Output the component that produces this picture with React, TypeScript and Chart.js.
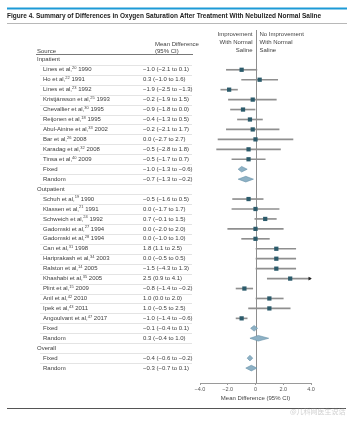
import React, { useEffect, useRef } from 'react';
import { Chart, registerables } from 'chart.js';

Chart.register(...registerables);

const FONT = '"Liberation Sans", Arial, sans-serif';

const titleText = 'Figure 4. Summary of Differences in Oxygen Saturation After Treatment With Nebulized Normal Saline';
const leftHeader = ['Improvement', 'With Normal', 'Saline'];
const rightHeader = ['No Improvement', 'With Normal', 'Saline'];
const axisTitle = 'Mean Difference (95% CI)';
const watermark = '@儿科网医生说话';

// g = group header, s = study, f = pooled (diamond)
const rowKinds = ['g', 's', 's', 's', 's', 's', 's', 's', 's', 's', 's', 'f', 'f',
  'g', 's', 's', 's', 's', 's', 's', 's', 's', 's', 's', 's', 's', 's', 'f', 'f',
  'g', 'f', 'f'];

const rowNames = ['Inpatient', 'Lines et al,', 'Ho et al,', 'Lines et al,', 'Kristjánsson et al,', 'Chevallier et al,',
  'Reijonen et al,', 'Abul-Ainine et al,', 'Bar et al,', 'Karadag et al,', 'Tinsa et al,', 'Fixed', 'Random',
  'Outpatient', 'Schuh et al,', 'Klassen et al,', 'Schweich et al,', 'Gadomski et al,', 'Gadomski et al,',
  'Can et al,', 'Hariprakash et al,', 'Ralston et al,', 'Khashabi et al,', 'Plint et al,', 'Anil et al,',
  'Ipek et al,', 'Angoulvant et al,', 'Fixed', 'Random', 'Overall', 'Fixed', 'Random'];

const rowRefs = ['', '20', '22', '23', '25', '30', '18', '33', '26', '32', '40', '', '',
  '', '19', '21', '24', '27', '28', '31', '34', '14', '35', '15', '42', '43', '47', '', '',
  '', '', ''];

const rowYears = ['', '1990', '1991', '1992', '1993', '1995', '1995', '2002', '2008', '2008', '2009', '', '',
  '', '1990', '1991', '1992', '1994', '1994', '1998', '2003', '2005', '2005', '2009', '2010', '2011', '2017', '', '',
  '', '', ''];

const rowCI = ['', '−1.0 (−2.1 to 0.1)', '0.3 (−1.0 to 1.6)', '−1.9 (−2.5 to −1.3)', '−0.2 (−1.9 to 1.5)',
  '−0.9 (−1.8 to 0.0)', '−0.4 (−1.3 to 0.5)', '−0.2 (−2.1 to 1.7)', '0.0 (−2.7 to 2.7)', '−0.5 (−2.8 to 1.8)',
  '−0.5 (−1.7 to 0.7)', '−1.0 (−1.3 to −0.6)', '−0.7 (−1.3 to −0.2)',
  '', '−0.5 (−1.6 to 0.5)', '0.0 (−1.7 to 1.7)', '0.7 (−0.1 to 1.5)', '0.0 (−2.0 to 2.0)', '0.0 (−1.0 to 1.0)',
  '1.8 (1.1 to 2.5)', '0.0 (−0.5 to 0.5)', '−1.5 (−4.3 to 1.3)', '2.5 (0.9 to 4.1)', '−0.8 (−1.4 to −0.2)',
  '1.0 (0.0 to 2.0)', '1.0 (−0.5 to 2.5)', '−1.0 (−1.4 to −0.6)', '−0.1 (−0.4 to 0.1)', '0.3 (−0.4 to 1.0)',
  '', '−0.4 (−0.6 to −0.2)', '−0.3 (−0.7 to 0.1)'];

// values as plotted in the figure
const rowEst = [null, -1.0, 0.3, -1.9, -0.2, -0.9, -0.4, -0.2, 0.0, -0.5, -0.5, -1.0, -0.7,
  null, -0.5, 0.0, 0.7, 0.0, 0.0, 1.5, 1.5, 1.5, 2.5, -0.8, 1.0, 1.0, -1.0, -0.1, 0.2,
  null, -0.4, -0.3];
const rowLo = [null, -2.1, -1.0, -2.5, -1.95, -1.8, -1.3, -2.1, -2.7, -2.8, -1.7, -1.25, -1.25,
  null, -1.65, -1.7, -0.05, -2.0, -1.0, 0.0, 0.0, 0.0, 0.85, -1.4, 0.0, -0.5, -1.4, -0.35, -0.4,
  null, -0.6, -0.7];
const rowHi = [null, 0.1, 1.6, -1.3, 1.5, 0.0, 0.5, 1.7, 2.7, 1.8, 0.7, -0.6, -0.15,
  null, 0.55, 1.7, 1.5, 2.0, 1.0, 2.9, 2.9, 2.9, 4.1, -0.2, 2.0, 2.5, -0.6, 0.15, 0.95,
  null, -0.2, 0.1];

const xTicks = [-4, -2, 0, 2, 4];
const X_MIN = -4;
const X_MAX = 4;

const TEXT = '#404040';

const fmtTick = (v: number) => (v === 0 ? '0' : (v < 0 ? '−' : '') + Math.abs(v).toFixed(1));

function drawSourceLabel(ctx: CanvasRenderingContext2D, x: number, yc: number, i: number) {
  ctx.font = `6px ${FONT}`;
  ctx.fillText(rowNames[i], x, yc);
  let w = ctx.measureText(rowNames[i]).width;
  if (rowRefs[i]) {
    ctx.font = `4px ${FONT}`;
    ctx.fillText(rowRefs[i], x + w, yc - 1.8);
    w += ctx.measureText(rowRefs[i]).width;
    ctx.font = `6px ${FONT}`;
    ctx.fillText(' ' + rowYears[i], x + w, yc);
  }
}

const forestPlugin = {
  id: 'forest',
  beforeDatasetsDraw(chart: any) {
    const { ctx, chartArea, scales } = chart;
    const xs = scales.x;
    ctx.save();
    const x0 = Math.round(xs.getPixelForValue(0)) + 0.5;
    ctx.strokeStyle = '#8e8e8e';
    ctx.lineWidth = 1;
    ctx.beginPath();
    ctx.moveTo(x0, chartArea.top);
    ctx.lineTo(x0, chartArea.bottom);
    ctx.stroke();
    ctx.restore();
  },
  afterDatasetsDraw(chart: any) {
    const { ctx, scales } = chart;
    const xs = scales.x;
    const ys = scales.y;
    ctx.save();
    rowKinds.forEach((k, i) => {
      if (k !== 'f') return;
      const yc = ys.getPixelForValue(i);
      const l = xs.getPixelForValue(rowLo[i] as number);
      const r = xs.getPixelForValue(rowHi[i] as number);
      const c = xs.getPixelForValue(rowEst[i] as number);
      ctx.beginPath();
      ctx.moveTo(l, yc);
      ctx.lineTo(c, yc - 2.8);
      ctx.lineTo(r, yc);
      ctx.lineTo(c, yc + 2.8);
      ctx.closePath();
      ctx.fillStyle = '#8db1c5';
      ctx.fill();
      ctx.strokeStyle = '#6790a8';
      ctx.lineWidth = 0.6;
      ctx.stroke();
    });
    ctx.restore();
  },
  afterDraw(chart: any) {
    const { ctx, scales } = chart;
    const ys = scales.y;
    const xs = scales.x;
    ctx.save();
    ctx.fillStyle = '#1c9ad6';
    ctx.fillRect(7, 7.5, 340, 2);
    ctx.fillStyle = '#222';
    ctx.font = `bold 6.5px ${FONT}`;
    ctx.textBaseline = 'middle';
    ctx.textAlign = 'left';
    ctx.fillText(titleText, 7, 16);
    ctx.strokeStyle = '#9a9a9a';
    ctx.lineWidth = 0.7;
    ctx.beginPath();
    ctx.moveTo(7, 23.5);
    ctx.lineTo(347, 23.5);
    ctx.stroke();

    ctx.fillStyle = TEXT;
    ctx.font = `6px ${FONT}`;
    ctx.fillText('Source', 37, 51);
    ctx.fillText('Mean Difference', 155, 44);
    ctx.fillText('(95% CI)', 155, 51.5);
    ctx.strokeStyle = '#555';
    ctx.lineWidth = 0.8;
    ctx.beginPath();
    ctx.moveTo(36, 54.5);
    ctx.lineTo(193, 54.5);
    ctx.stroke();

    const x0 = xs.getPixelForValue(0);
    const hy = [34, 42.3, 50.6];
    ctx.textAlign = 'right';
    leftHeader.forEach((t, k) => ctx.fillText(t, x0 - 3, hy[k]));
    ctx.textAlign = 'left';
    rightHeader.forEach((t, k) => ctx.fillText(t, x0 + 4, hy[k]));

    ctx.strokeStyle = '#d2d2d2';
    ctx.lineWidth = 0.6;
    for (let i = 0; i < rowKinds.length - 1; i++) {
      const yl = Math.round((ys.getPixelForValue(i) + ys.getPixelForValue(i + 1)) / 2) + 0.5;
      ctx.beginPath();
      ctx.moveTo(40, yl);
      ctx.lineTo(192, yl);
      ctx.stroke();
    }

    ctx.fillStyle = TEXT;
    rowKinds.forEach((k, i) => {
      const yc = ys.getPixelForValue(i);
      ctx.textAlign = 'left';
      if (k === 'g') {
        ctx.font = `6px ${FONT}`;
        ctx.fillText(rowNames[i], 37, yc);
      } else {
        drawSourceLabel(ctx, 43, yc, i);
        ctx.font = `6px ${FONT}`;
        ctx.fillText(rowCI[i], 143, yc);
      }
    });

    ctx.strokeStyle = '#555';
    ctx.lineWidth = 1;
    ctx.beginPath();
    ctx.moveTo(7, 408.5);
    ctx.lineTo(346, 408.5);
    ctx.stroke();

    ctx.fillStyle = 'rgba(150,150,150,0.45)';
    ctx.font = `7px "Noto Sans CJK SC", sans-serif`;
    ctx.textAlign = 'left';
    ctx.fillText(watermark, 290, 411);
    ctx.restore();
  },
};

export default function App() {
  const ref = useRef<HTMLCanvasElement>(null);
  useEffect(() => {
    const canvas = ref.current;
    if (!canvas) return;

    const ciBars: any[] = [];
    const markers: any[] = [];
    const arrows: any[] = [];
    rowKinds.forEach((k, i) => {
      if (k !== 's') return;
      ciBars.push({ x: [rowLo[i], rowHi[i]], y: i });
      markers.push({ x: rowEst[i], y: i });
      if ((rowHi[i] as number) > X_MAX) arrows.push({ x: X_MAX - 0.1, y: i });
    });

    const chart = new Chart(canvas, {
      type: 'scatter',
      data: {
        datasets: [
          {
            type: 'bar',
            indexAxis: 'y',
            data: ciBars,
            backgroundColor: '#8f8f8f',
            borderWidth: 0,
            barThickness: 1,
            order: 3,
          } as any,
          {
            type: 'scatter',
            data: markers,
            pointStyle: 'rect',
            pointRadius: 3,
            backgroundColor: '#2c5b6b',
            borderColor: '#2c5b6b',
            borderWidth: 0,
            clip: false,
            order: 1,
          } as any,
          {
            type: 'scatter',
            data: arrows,
            pointStyle: 'triangle',
            rotation: 90,
            pointRadius: 2.2,
            backgroundColor: '#222',
            borderWidth: 0,
            clip: false,
            order: 2,
          } as any,
        ],
      },
      options: {
        responsive: false,
        animation: false,
        devicePixelRatio: 1,
        layout: { padding: { left: 200, right: 49, top: 30, bottom: 0 } },
        plugins: { legend: { display: false }, tooltip: { enabled: false } },
        events: [],
        scales: {
          x: {
            type: 'linear',
            min: X_MIN,
            max: X_MAX,
            offset: false,
            afterBuildTicks: (s: any) => {
              s.ticks = xTicks.map((v) => ({ value: v }));
            },
            afterFit: (s: any) => {
              s.height = 39;
            },
            border: { display: true, color: '#9a9a9a', width: 1 },
            grid: { display: true, drawOnChartArea: false, drawTicks: true, tickLength: 2, color: '#9a9a9a', offset: false },
            ticks: {
              padding: 1,
              color: '#555',
              font: { family: FONT, size: 5.5 },
              maxRotation: 0,
              autoSkip: false,
              callback: (v: any) => fmtTick(Number(v)),
            },
            title: {
              display: true,
              text: axisTitle,
              color: '#444',
              font: { family: FONT, size: 6 },
              padding: { top: 0, bottom: 20 },
            },
          },
          y: {
            type: 'linear',
            min: -3,
            max: 32.5,
            reverse: true,
            display: false,
            offset: false,
            grid: { display: false, offset: false },
          },
        },
      } as any,
      plugins: [forestPlugin],
    });
    return () => chart.destroy();
  }, []);

  return (
    <div style={{ position: 'absolute', left: 0, top: 0, width: 360, height: 422, background: '#fff' }}>
      <canvas ref={ref} width={360} height={422} style={{ display: 'block', width: 360, height: 422 }} />
    </div>
  );
}
